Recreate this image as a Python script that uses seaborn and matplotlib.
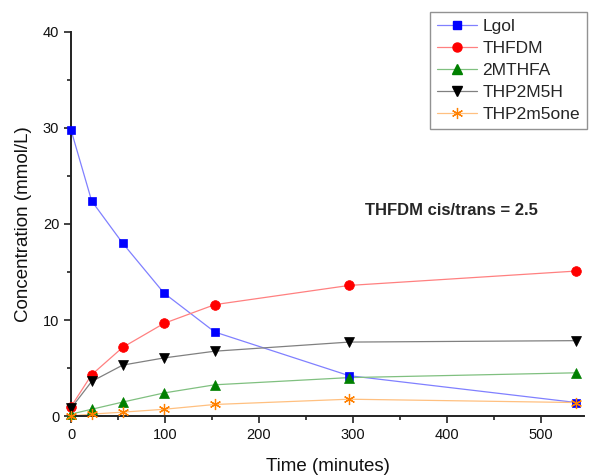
import matplotlib
matplotlib.use("Agg")
import matplotlib.pyplot as plt
from matplotlib.lines import Line2D
from matplotlib.ticker import MultipleLocator
import seaborn as sns
import pandas as pd

# ---- data ----
time_min = [0, 22, 55, 99, 153, 296, 538]
lgol = [29.8, 22.4, 18.0, 12.8, 8.75, 4.2, 1.4]
thfdm = [0.97, 4.3, 7.15, 9.65, 11.6, 13.6, 15.1]
mthfa = [0.2, 0.7, 1.45, 2.4, 3.25, 4.0, 4.5]
thp2m5h = [0.8, 3.6, 5.3, 6.05, 6.75, 7.7, 7.85]
thp2m5one = [0.0, 0.2, 0.4, 0.7, 1.2, 1.75, 1.4]
series_names = ["Lgol", "THFDM", "2MTHFA", "THP2M5H", "THP2m5one"]
series_values = [lgol, thfdm, mthfa, thp2m5h, thp2m5one]
annotation = "THFDM cis/trans = 2.5"

rows = []
for name, vals in zip(series_names, series_values):
    for t, v in zip(time_min, vals):
        rows.append({"Time": t, "Conc": v, "Series": name})
df = pd.DataFrame(rows)

sns.set_style("ticks")
plt.rcParams["font.family"] = ["Liberation Sans", "DejaVu Sans"]

marker_colors = {"Lgol": "#0000ff", "THFDM": "#ff0000", "2MTHFA": "#008000",
                 "THP2M5H": "#000000", "THP2m5one": "#ff8000"}
line_colors = {"Lgol": "#8080ff", "THFDM": "#ff8080", "2MTHFA": "#80c080",
               "THP2M5H": "#808080", "THP2m5one": "#ffc080"}
markers = {"Lgol": "s", "THFDM": "o", "2MTHFA": "^", "THP2M5H": "v",
           "THP2m5one": (6, 2, 0)}
msizes = {"Lgol": 6, "THFDM": 7, "2MTHFA": 7, "THP2M5H": 7, "THP2m5one": 8}

fig = plt.figure(figsize=(5.89, 4.76), dpi=100)
ax = fig.add_axes([71/589, 60/476, (584-71)/589, (416-32)/476])

sns.lineplot(data=df, x="Time", y="Conc", hue="Series", palette=line_colors,
             hue_order=series_names, lw=0.9, legend=False, ax=ax, sort=False)

for name in series_names:
    sub = df[df["Series"] == name]
    m = markers[name]
    if name == "THP2m5one":
        ax.plot(sub["Time"], sub["Conc"], ls="none", marker=m,
                ms=msizes[name], mec=marker_colors[name], mew=0.9, zorder=5,
                clip_on=False)
    else:
        ax.plot(sub["Time"], sub["Conc"], ls="none", marker=m,
                ms=msizes[name], mfc=marker_colors[name], mec=marker_colors[name],
                mew=0.5, zorder=5, clip_on=False)

ax.set_xlim(0, 546)
ax.set_ylim(0, 40)
ax.xaxis.set_major_locator(MultipleLocator(100))
ax.xaxis.set_minor_locator(MultipleLocator(50))
ax.yaxis.set_major_locator(MultipleLocator(10))
ax.yaxis.set_minor_locator(MultipleLocator(5))
ax.tick_params(which="major", direction="out", length=5, width=1.2,
               labelsize=10.5, color="#222222", labelcolor="#111111")
ax.tick_params(which="minor", direction="out", length=3, width=1.2, color="#222222")
for s in ["top", "right"]:
    ax.spines[s].set_visible(False)
for s in ["left", "bottom"]:
    ax.spines[s].set_linewidth(1.4)
    ax.spines[s].set_color("#222222")

ax.set_xlabel("Time (minutes)", fontsize=13.5, labelpad=12, color="#111111")
ax.set_ylabel("Concentration (mmol/L)", fontsize=13.5, labelpad=8, color="#111111")

ax.text(405, 21.4, annotation, fontsize=12, fontweight="bold",
        ha="center", va="center")

handles = []
for name in series_names:
    m = markers[name]
    if name == "THP2m5one":
        h = Line2D([], [], color=line_colors[name], lw=0.9, marker=m,
                   ms=msizes[name], mec=marker_colors[name], mew=0.9)
    else:
        h = Line2D([], [], color=line_colors[name], lw=0.9, marker=m,
                   ms=msizes[name] - 0.5, mfc=marker_colors[name],
                   mec=marker_colors[name])
    handles.append(h)
leg = fig.legend(handles, series_names, loc="upper right",
                 bbox_to_anchor=(587/589, 1 - 12/476), fontsize=12.5,
                 frameon=True, fancybox=False, edgecolor="#777777",
                 handlelength=2.3, handletextpad=0.3, labelspacing=0.4,
                 borderpad=0.4, borderaxespad=0)
leg.get_frame().set_linewidth(1.0)

fig.savefig("out.png", dpi=100)
